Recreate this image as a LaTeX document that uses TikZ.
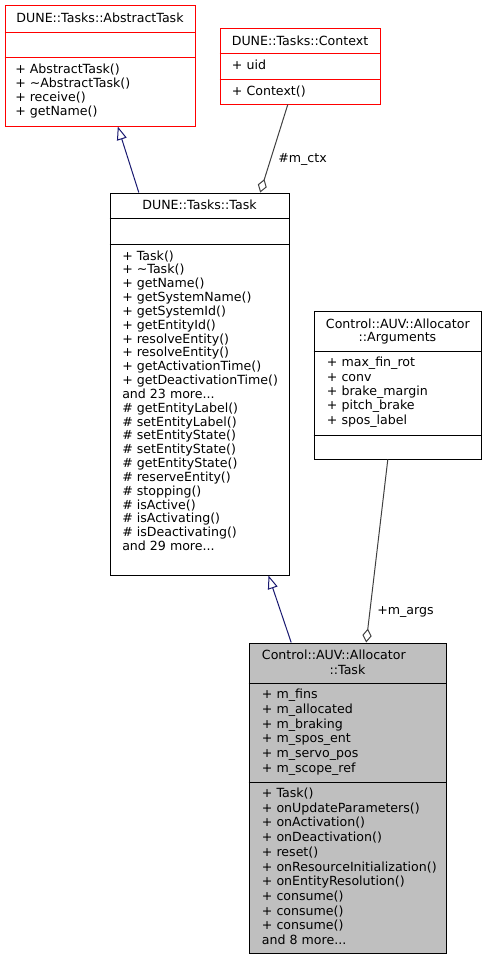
\documentclass[tikz,border=0pt]{standalone}
\usepackage{fontspec}
\setmainfont{DejaVu Sans}
\usetikzlibrary{arrows.meta,fit,calc}
\definecolor{inhcol}{HTML}{191970}
\definecolor{aggcol}{HTML}{404040}
\definecolor{boxgray}{HTML}{BFBFBF}
\definecolor{boxred}{HTML}{FF0000}
\newcommand\mydots{...}
\newcommand\classlines[5]{%
  \foreach \lbl [count=\i from 0] in {#5}
    \node[txt] (#1\i) at (#2, {#3+\i*#4}) {\lbl};}
\begin{document}
\begin{tikzpicture}[x=0.75pt,y=-0.75pt,
  font=\fontsize{9.45}{11}\selectfont,
  txt/.style={inner sep=0pt, anchor=base west},
  ttl/.style={inner sep=0pt, anchor=base},
  redbox/.style={draw=boxred, inner sep=0pt, line width=0.75pt},
  blackbox/.style={draw=black, inner sep=0pt, line width=0.75pt},
  graybox/.style={draw=black, fill=boxgray, inner sep=0pt, line width=0.75pt},
  inherit/.style={draw=inhcol, line width=0.75pt, -{Triangle[open,length=10pt,width=7.5pt]}},
  aggreg/.style={draw=aggcol, line width=0.75pt, -{Diamond[open,length=10.5pt,width=7pt]}}]
\useasboundingbox (0,0) rectangle (485,960);

% ---- DUNE::Tasks::AbstractTask
\node[redbox, fit={(5,5) (195,126)}] (abs) {};
\draw[boxred, line width=0.75pt] (abs.west |- 0,32) -- (abs.east |- 0,32);
\draw[boxred, line width=0.75pt] (abs.west |- 0,57) -- (abs.east |- 0,57);
\node[ttl] (absT) at (100,22.7) {DUNE::Tasks::AbstractTask};
\classlines{absm}{15}{73.3}{14.2}{+ AbstractTask(),+ \textasciitilde AbstractTask(),+ receive(),+ getName()}

% ---- DUNE::Tasks::Context
\node[redbox, fit={(220,28) (380,104)}] (ctx) {};
\draw[boxred, line width=0.75pt] (ctx.west |- 0,53) -- (ctx.east |- 0,53);
\draw[boxred, line width=0.75pt] (ctx.west |- 0,79) -- (ctx.east |- 0,79);
\node[ttl] (ctxT) at (300,45.7) {DUNE::Tasks::Context};
\node[txt] (ctxa0) at (231.7,69.3) {+ uid};
\node[txt] (ctxm0) at (231.7,95) {+ Context()};

% ---- DUNE::Tasks::Task
\node[blackbox, fit={(110,193) (289,575)}] (task) {};
\draw[line width=0.75pt] (task.west |- 0,218) -- (task.east |- 0,218);
\draw[line width=0.75pt] (task.west |- 0,244) -- (task.east |- 0,244);
\node[ttl] (taskT) at (199.5,209) {DUNE::Tasks::Task};
\classlines{taskm}{122}{260}{13.84}{+ Task(),+ \textasciitilde Task(),+ getName(),+ getSystemName(),+ getSystemId(),+ getEntityId(),+ resolveEntity(),+ resolveEntity(),+ getActivationTime(),+ getDeactivationTime(),and 23 more\mydots,\# getEntityLabel(),\# setEntityLabel(),\# setEntityState(),\# setEntityState(),\# getEntityState(),\# reserveEntity(),\# stopping(),\# isActive(),\# isActivating(),\# isDeactivating(),and 29 more\mydots}

% ---- Control::AUV::Allocator::Arguments
\node[blackbox, fit={(314,311) (481,459)}] (args) {};
\draw[line width=0.75pt] (args.west |- 0,351) -- (args.east |- 0,351);
\draw[line width=0.75pt] (args.west |- 0,435) -- (args.east |- 0,435);
\node[txt] (argsT1) at (325.7,328.3) {Control::AUV::Allocator};
\node[ttl] (argsT2) at (397.5,341.7) {::Arguments};
\classlines{argsa}{326.7}{366.7}{14.33}{+ max\_fin\_rot,+ conv,+ brake\_margin,+ pitch\_brake,+ spos\_label}

% ---- Control::AUV::Allocator::Task
\node[graybox, fit={(249,643) (446,953)}] (alloc) {};
\draw[line width=0.75pt] (alloc.west |- 0,683) -- (alloc.east |- 0,683);
\draw[line width=0.75pt] (alloc.west |- 0,782) -- (alloc.east |- 0,782);
\node[txt] (allocT1) at (261.7,659) {Control::AUV::Allocator};
\node[ttl] (allocT2) at (347.5,674) {::Task};
\classlines{alloca}{261.7}{698.5}{14.8}{+ m\_fins,+ m\_allocated,+ m\_braking,+ m\_spos\_ent,+ m\_servo\_pos,+ m\_scope\_ref}
\classlines{allocm}{261.7}{797.5}{14.7}{+ Task(),+ onUpdateParameters(),+ onActivation(),+ onDeactivation(),+ reset(),+ onResourceInitialization(),+ onEntityResolution(),+ consume(),+ consume(),+ consume(),and 8 more\mydots}

% ---- connectors
\draw[inherit] ($(task.north west)+(29.3,0)$) -- ($(abs.south west)+(113.3,0)$);
\draw[aggreg] ($(ctx.south west)+(68.3,0)$) -- ($(task.north west)+(150.7,0)$);
\node[txt] (lctx) at (278,162.5) {\#m\_ctx};
\draw[inherit] ($(alloc.north west)+(42.7,0)$) -- ($(task.south west)+(159,0)$);
\draw[aggreg] ($(args.south west)+(74.3,0)$) -- ($(alloc.north west)+(117.7,0)$);
\node[txt] (largs) at (377,614.5) {+m\_args};
\end{tikzpicture}
\end{document}
